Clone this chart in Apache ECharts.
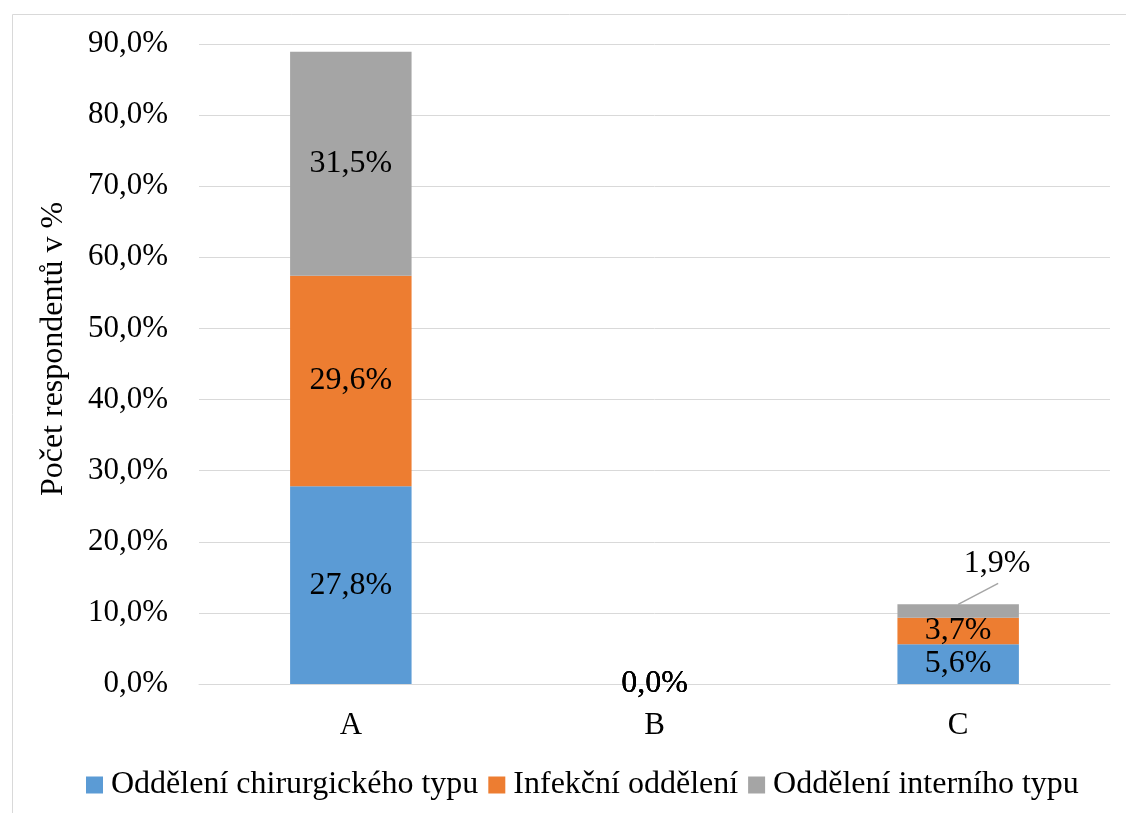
<!doctype html>
<html lang="cs">
<head>
    <meta charset="UTF-8">
    <script src="https://cdn.jsdelivr.net/npm/echarts@6/dist/echarts.min.js"></script>
    <title>Počet respondentů</title>
    <style>
        body { margin: 0; background: #fff; }
    </style>
</head>
<body>
<div id="main" style="width: 1126px;height:813px;"></div>
<script>
    var categories = ['A', 'B', 'C'];
    var seriesNames = ['Oddělení chirurgického typu', 'Infekční oddělení', 'Oddělení interního typu'];
    var chirurgicke = [27.8, 0, 5.6];
    var infekcni = [29.6, 0, 3.7];
    var interni = [31.5, 0, 1.9];
    var colors = ['#5B9BD5', '#ED7D31', '#A5A5A5'];

    var font = '"Liberation Serif", "Times New Roman", serif';

    function pct(v) {
        return v.toFixed(1).replace('.', ',') + '%';
    }

    var myChart = echarts.init(document.getElementById('main'));

    function makeSeries(idx, values) {
        return {
            name: seriesNames[idx],
            type: 'bar',
            stack: 'total',
            barWidth: '40%',
            itemStyle: {color: colors[idx]},
            label: {
                show: true,
                position: 'inside',
                color: '#000',
                fontFamily: font,
                fontSize: 32,
                formatter: function (p) { return pct(p.value); }
            },
            data: values.slice()
        };
    }

    var s1 = makeSeries(0, chirurgicke);
    var s2 = makeSeries(1, infekcni);
    var s3 = makeSeries(2, interni);
    // u C je šedý díl moc malý - popisek se kreslí zvlášť nad sloupcem
    s3.data[2] = {value: interni[2], label: {show: false}};

    // vodicí čára + popisek pro C, umístěno podle vrcholu sloupce
    var calloutIdx = 2;
    var calloutTop = chirurgicke[calloutIdx] + infekcni[calloutIdx] + interni[calloutIdx];
    var callout = {
        type: 'custom',
        silent: true,
        z: 5,
        data: [[calloutIdx, calloutTop, interni[calloutIdx]]],
        renderItem: function (params, api) {
            var p = api.coord([api.value(0), api.value(1)]);
            return {
                type: 'group',
                children: [{
                    type: 'line',
                    shape: {x1: p[0], y1: p[1], x2: p[0] + 40, y2: p[1] - 21},
                    style: {stroke: '#A5A5A5', lineWidth: 1.5}
                }, {
                    type: 'text',
                    x: p[0] + 39,
                    y: p[1] - 41,
                    style: {
                        text: pct(api.value(2)),
                        fill: '#000',
                        font: '32px ' + font,
                        align: 'center',
                        verticalAlign: 'middle'
                    }
                }]
            };
        }
    };

    var option = {
        animation: false,
        textStyle: {fontFamily: font},
        color: colors,
        graphic: [{
            type: 'rect',
            left: 10,
            top: 12,
            shape: {width: 1200, height: 900},
            style: {fill: 'none', stroke: '#D9D9D9', lineWidth: 1}
        }],
        legend: {
            data: seriesNames,
            top: 764,
            left: 81,
            itemWidth: 17,
            itemHeight: 17,
            itemGap: 10,
            icon: 'rect',
            textStyle: {fontFamily: font, fontSize: 32, color: '#000', padding: [0, 0, 0, 3]}
        },
        grid: {
            left: 199,
            right: 16,
            top: 44,
            bottom: 129
        },
        xAxis: {
            type: 'category',
            data: categories,
            axisLine: {lineStyle: {color: '#D9D9D9', width: 1}},
            axisTick: {show: false},
            axisLabel: {color: '#000', fontFamily: font, fontSize: 31, margin: 26}
        },
        yAxis: {
            type: 'value',
            min: 0,
            max: 90,
            interval: 10,
            name: 'Počet respondentů v %',
            nameLocation: 'middle',
            nameGap: 129,
            nameTextStyle: {color: '#000', fontFamily: font, fontSize: 32, padding: [0, 0, 0, 30]},
            axisLine: {show: false},
            axisTick: {show: false},
            splitLine: {lineStyle: {color: '#D9D9D9', width: 1}},
            axisLabel: {
                color: '#000',
                fontFamily: font,
                fontSize: 31,
                margin: 31,
                formatter: function (v) { return pct(v); }
            }
        },
        series: [s1, s2, s3, callout]
    };

    myChart.setOption(option);
</script>
</body>
</html>
